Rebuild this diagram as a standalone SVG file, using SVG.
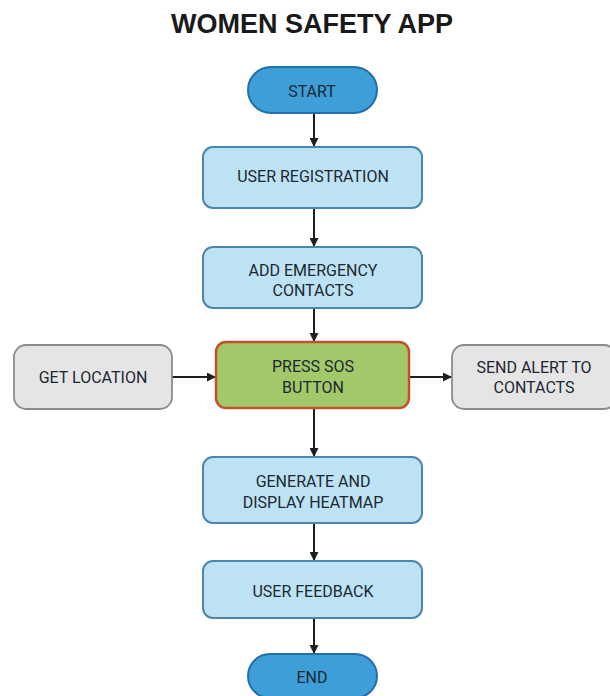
<svg xmlns="http://www.w3.org/2000/svg" width="610" height="696" viewBox="0 0 610 696">
  <defs>
    <marker id="arrow" viewBox="0 0 10 10" refX="10" refY="5" markerWidth="9" markerHeight="9" markerUnits="userSpaceOnUse" orient="auto">
      <path d="M0,0 L10,5 L0,10 z" fill="#1e1e1e"/>
    </marker>
  </defs>
  <style>
    .title { font-family: "Liberation Sans", Arial, sans-serif; font-weight: bold; font-size: 27px; fill: #1a1a1a; }
    .lbl { font-family: Roboto, "Liberation Sans", sans-serif; font-size: 16px; fill: #1c2733; text-anchor: middle; }
    .term { fill: #3d9ed8; stroke: #2270a6; stroke-width: 2; }
    .step { fill: #bde2f3; stroke: #4a87ab; stroke-width: 2; }
    .sos { fill: #a3c86a; stroke: #c4512c; stroke-width: 2.5; }
    .side { fill: #e5e5e5; stroke: #8c8c8c; stroke-width: 1.8; }
    .conn { stroke: #1e1e1e; stroke-width: 2; fill: none; marker-end: url(#arrow); }
  </style>
  <rect width="610" height="696" fill="#ffffff"/>

  <text class="title" x="312" y="33" text-anchor="middle">WOMEN SAFETY APP</text>

  <g id="connectors">
    <line class="conn" x1="314" y1="113" x2="314" y2="147"/>
    <line class="conn" x1="314" y1="208" x2="314" y2="247"/>
    <line class="conn" x1="314" y1="308" x2="314" y2="342"/>
    <line class="conn" x1="172" y1="377" x2="216" y2="377"/>
    <line class="conn" x1="409" y1="377" x2="452" y2="377"/>
    <line class="conn" x1="314" y1="408" x2="314" y2="457"/>
    <line class="conn" x1="314" y1="523" x2="314" y2="561"/>
    <line class="conn" x1="314" y1="618" x2="314" y2="654"/>
  </g>

  <g id="start">
    <rect class="term" x="248" y="67" width="129" height="46" rx="23"/>
    <text class="lbl" x="312" y="97">START</text>
  </g>

  <g id="user-registration">
    <rect class="step" x="203" y="147" width="219" height="61" rx="10"/>
    <text class="lbl" x="313" y="182">USER REGISTRATION</text>
  </g>

  <g id="add-emergency-contacts">
    <rect class="step" x="203" y="247" width="219" height="61" rx="10"/>
    <text class="lbl" x="313" y="276">ADD EMERGENCY</text>
    <text class="lbl" x="313" y="296">CONTACTS</text>
  </g>

  <g id="get-location">
    <rect class="side" x="14" y="345" width="158" height="64" rx="12"/>
    <text class="lbl" x="93" y="383">GET LOCATION</text>
  </g>

  <g id="press-sos">
    <rect class="sos" x="216" y="342" width="193" height="66" rx="10"/>
    <text class="lbl" x="313" y="372">PRESS SOS</text>
    <text class="lbl" x="313" y="393">BUTTON</text>
  </g>

  <g id="send-alert">
    <rect class="side" x="452" y="345" width="164" height="64" rx="12"/>
    <text class="lbl" x="534" y="373">SEND ALERT TO</text>
    <text class="lbl" x="534" y="393">CONTACTS</text>
  </g>

  <g id="generate-heatmap">
    <rect class="step" x="203" y="457" width="219" height="66" rx="10"/>
    <text class="lbl" x="313" y="487">GENERATE AND</text>
    <text class="lbl" x="313" y="508">DISPLAY HEATMAP</text>
  </g>

  <g id="user-feedback">
    <rect class="step" x="203" y="561" width="219" height="57" rx="10"/>
    <text class="lbl" x="313" y="597">USER FEEDBACK</text>
  </g>

  <g id="end">
    <rect class="term" x="248" y="654" width="129" height="44" rx="22"/>
    <text class="lbl" x="312" y="683">END</text>
  </g>
</svg>
